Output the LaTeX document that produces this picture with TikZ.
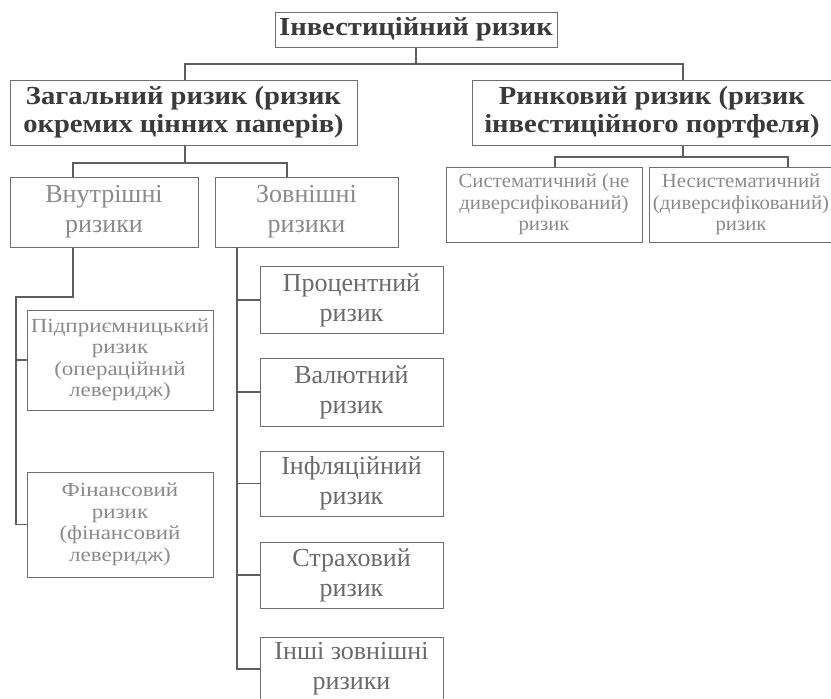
\documentclass[tikz,border=0pt]{standalone}
\usepackage{fontspec}
\setmainfont{Liberation Serif}
\newfontfamily\bigfam{Liberation Serif}[FakeStretch=1.1]
\newfontfamily\smallfam{Liberation Serif}[FakeStretch=1.15]
\newfontfamily\tinyfam{Liberation Serif}[FakeStretch=1.04]
\begin{document}
\begin{tikzpicture}[x=1pt,y=-1pt,
  box/.style={draw=boxc,line width=1pt,rectangle,inner sep=0pt,align=center},
  bigtxt/.style={font=\bigfam\bfseries\fontsize{26}{28}\selectfont,text=dark},
  midtxt/.style={font=\fontsize{26}{30}\selectfont,text=midg},
  lighttxt/.style={font=\fontsize{26}{30}\selectfont,text=lightg},
  smalltxt/.style={font=\smallfam\fontsize{20}{21.5}\selectfont,text=lightg},
  tinytxt/.style={font=\tinyfam\fontsize{20}{21.5}\selectfont,text=lightg},
  conn/.style={draw=linec,line width=1.4pt}]
\definecolor{boxc}{HTML}{6E6E6E}
\definecolor{linec}{HTML}{5E5E5E}
\definecolor{dark}{HTML}{3A3A3A}
\definecolor{midg}{HTML}{6A6A6A}
\definecolor{lightg}{HTML}{8A8A8A}
\useasboundingbox (0,0) rectangle (831,699);
% level 0
\node[box,bigtxt,minimum width=282pt,minimum height=35pt] (top) at (416,29.5) {Інвестиційний ризик};
% level 1
\node[box,bigtxt,minimum width=347pt,minimum height=65pt] (gen) at (183.5,112.5) {Загальний ризик (ризик\\окремих цінних паперів)};
\node[box,bigtxt,minimum width=360pt,minimum height=65pt] (mkt) at (652,112.5) {Ринковий ризик (ризик\\інвестиційного портфеля)};
% level 2
\node[box,lighttxt,minimum width=188pt,minimum height=70pt] (int) at (104,212) {Внутрішні\\ризики};
\node[box,lighttxt,minimum width=183pt,minimum height=70pt] (ext) at (306.5,212) {Зовнішні\\ризики};
\node[box,tinytxt,minimum width=196pt,minimum height=75pt] (sys) at (544,204.5) {Систематичний (не\\диверсифікований)\\ризик};
\node[box,tinytxt,minimum width=184pt,minimum height=75pt] (nsys) at (741,204.5) {Несистематичний\\(диверсифікований)\\ризик};
% internal risks
\node[box,smalltxt,minimum width=186pt,minimum height=100pt] (ent) at (120,360) {Підприємницький\\ризик\\(операційний\\леверидж)};
\node[box,smalltxt,minimum width=186pt,minimum height=105pt] (fin) at (120,524.5) {Фінансовий\\ризик\\(фінансовий\\леверидж)};
% external risks
\node[box,midtxt,minimum width=183pt,minimum height=67pt] (proc) at (351.5,300) {Процентний\\ризик};
\node[box,midtxt,minimum width=183pt,minimum height=68pt] (val) at (351.5,392) {Валютний\\ризик};
\node[box,midtxt,minimum width=183pt,minimum height=65pt] (infl) at (351.5,483.5) {Інфляційний\\ризик};
\node[box,midtxt,minimum width=183pt,minimum height=66pt] (strk) at (351.5,575) {Страховий\\ризик};
\node[box,midtxt,minimum width=183pt,minimum height=64pt] (oth) at (351.5,669) {Інші зовнішні\\ризики};
% connectors level 0 -> 1
\coordinate (b1L) at (185,64);
\coordinate (b1R) at (683,64);
\draw[conn] (top.south) -- (top.south |- b1L);
\draw[conn] (gen.north -| b1L) |- (b1R) -- (b1R |- mkt.north);
% gen -> int, ext
\coordinate (b2) at (185,163);
\coordinate (b2L) at (73,163);
\coordinate (b2R) at (287,163);
\draw[conn] (gen.south -| b2) -- (b2);
\draw[conn] (int.north -| b2L) -- (b2L) -- (b2R) -- (ext.north -| b2R);
% mkt -> sys, nsys
\coordinate (b3) at (683,157);
\coordinate (b3L) at (555,157);
\coordinate (b3R) at (788,157);
\draw[conn] (mkt.south -| b3) -- (b3);
\draw[conn] (sys.north -| b3L) -- (b3L) -- (b3R) -- (nsys.north -| b3R);
% internal branch
\coordinate (iv) at (73,297);
\coordinate (il) at (16,297);
\draw[conn] (int.south -| iv) -- (iv) -- (il) |- (fin.west);
\draw[conn] (ent.west -| il) -- (ent.west);
% external branch
\coordinate (ev) at (237,247);
\draw[conn] (ev) |- (oth.west);
\foreach \n in {proc,val,infl,strk}{
  \draw[conn] (\n.west -| ev) -- (\n.west);
}
\end{tikzpicture}
\end{document}
